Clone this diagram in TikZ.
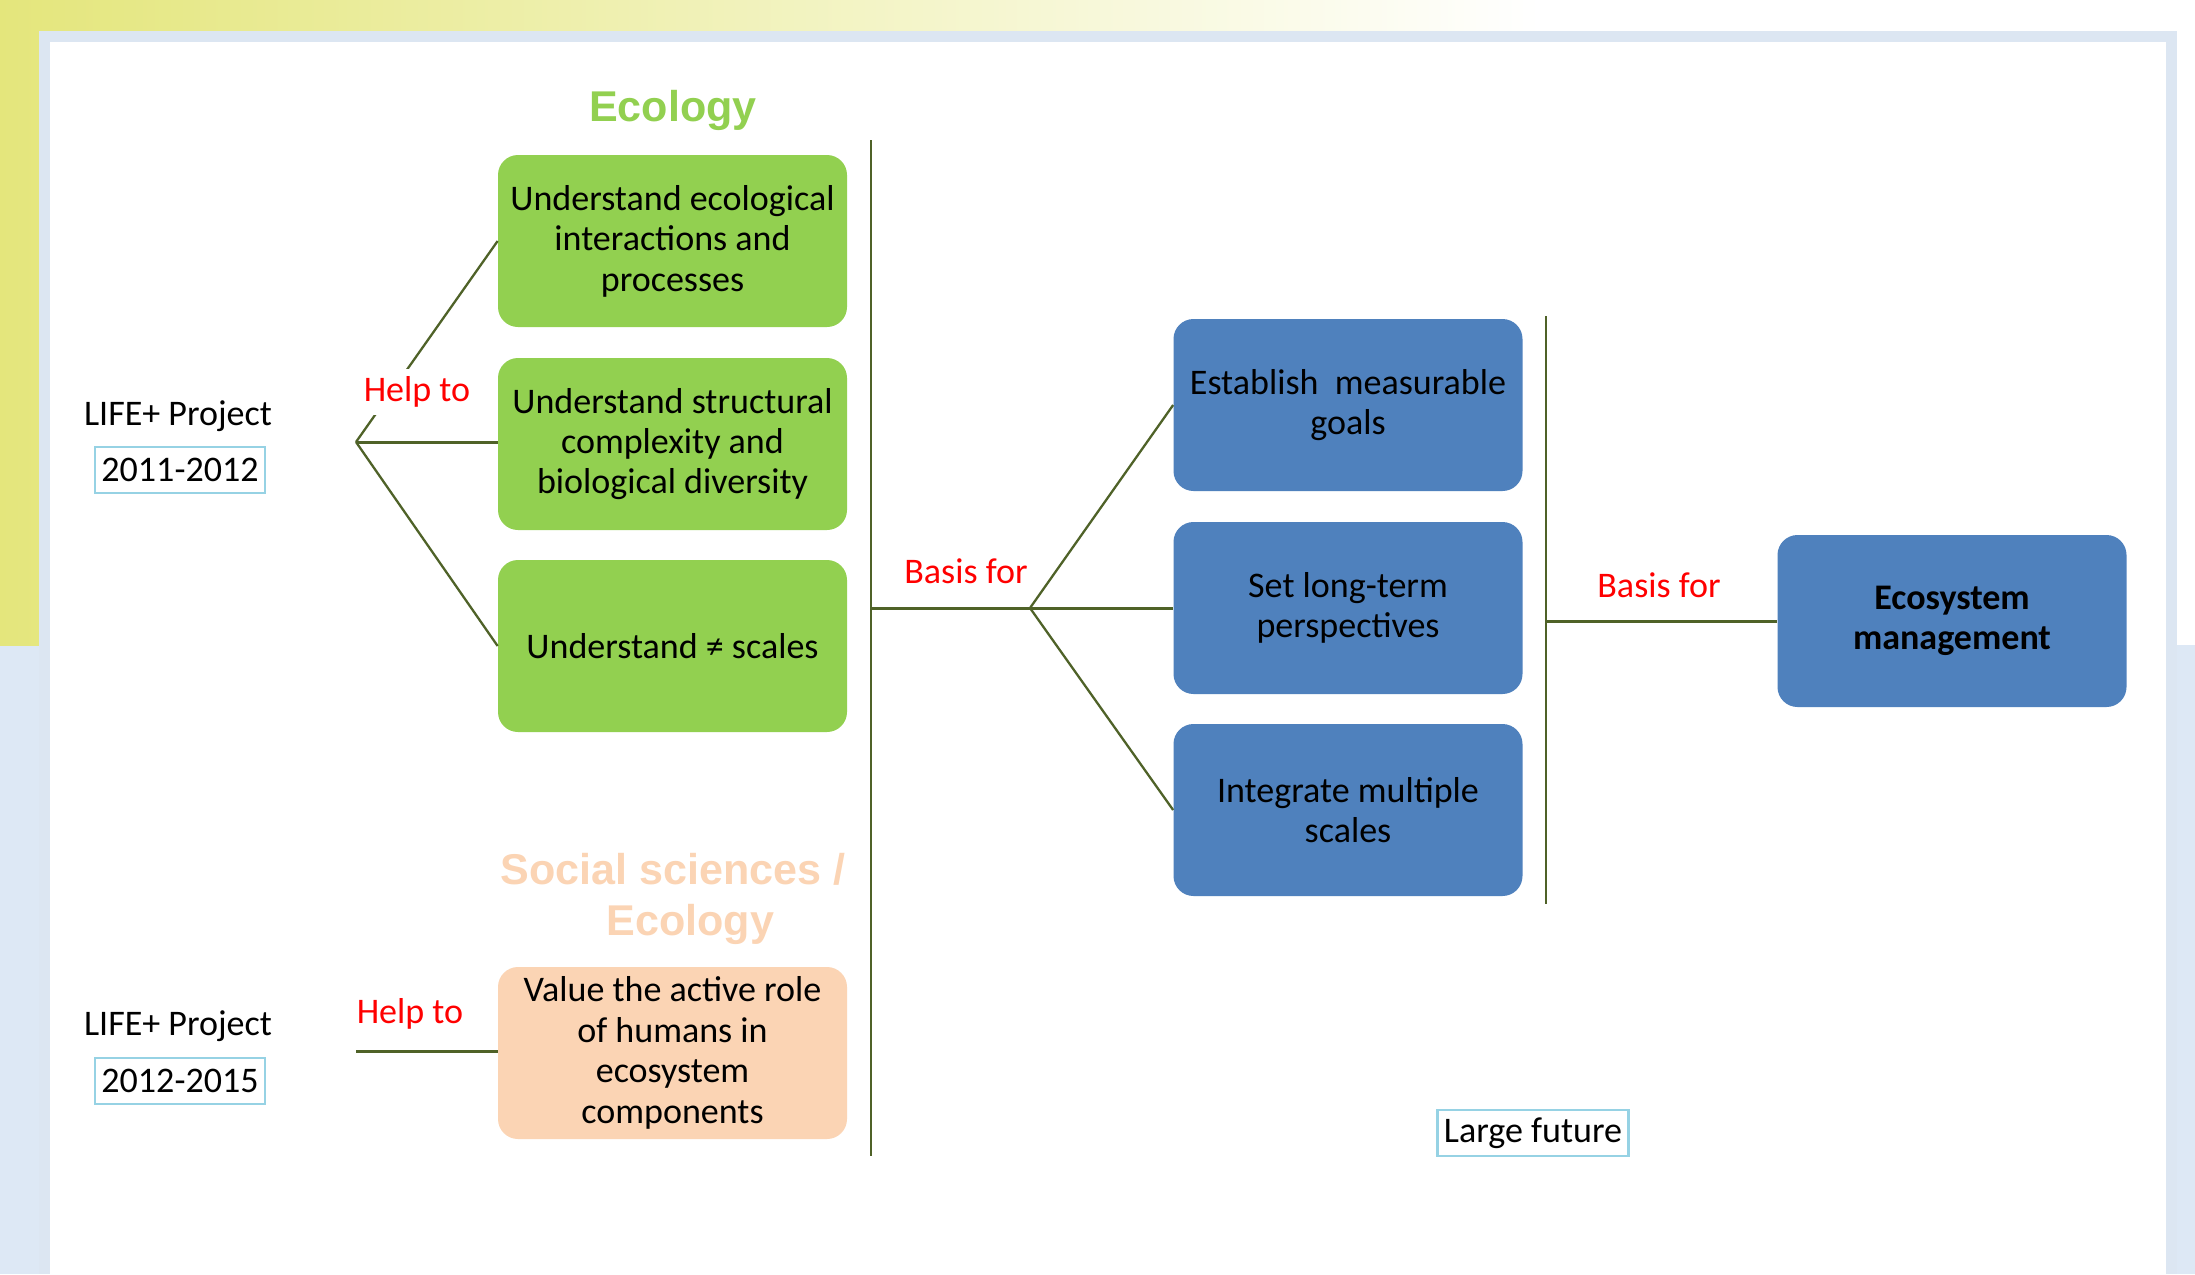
\documentclass[tikz,border=0pt]{standalone}
\usepackage{fontspec}
\setmainfont{Carlito}
\newfontfamily\headfont{Liberation Sans}
\usepackage{tikz}
\usetikzlibrary{calc}

\definecolor{ecogreen}{RGB}{146,208,80}
\definecolor{mgmtblue}{RGB}{79,129,189}
\definecolor{socpeach}{RGB}{251,212,180}
\definecolor{branch}{RGB}{79,98,40}
\definecolor{framegray}{RGB}{220,230,242}
\definecolor{bgyellow}{RGB}{228,230,124}
\definecolor{bgblue}{RGB}{221,232,245}
\definecolor{tagcyan}{RGB}{150,210,228}

\begin{document}
\begin{tikzpicture}[x=0.2mm, y=-0.2mm,
		every node/.style={font=\fontsize{20.5}{23}\selectfont, align=center},
		goalbox/.style={rounded corners=4mm, minimum width=69.8mm, minimum height=34.4mm, inner sep=1mm},
		yeartag/.style={draw=tagcyan, line width=1.5pt, inner sep=1.3mm, minimum height=9.2mm},
		linkword/.style={text=red},
		heading/.style={font=\headfont\bfseries\fontsize{24.5}{29}\selectfont},
		branchline/.style={draw=branch, line width=1.3pt},
		stemline/.style={draw=branch, line width=1.7pt}]
			\useasboundingbox (0,0) rectangle (2195,1274);
			\fill[bgblue] (0,0) rectangle (2195,1274);
			\shade[left color=bgyellow, right color=white] (0,0) rectangle (1540,645);
			\fill[white] (1540,0) rectangle (2195,645);
			\fill[framegray] (39,31) rectangle (2177,1274);
			\fill[white] (50,42) rectangle (2166,1274);

			\node[heading, text=ecogreen] (ecotitle) at (673,110) {Ecology};
			\node[goalbox, fill=ecogreen] (interact) at (672.5,241) {Understand ecological\\interactions and\\processes};
			\node[goalbox, fill=ecogreen] (struct) at (672.5,444) {Understand structural\\complexity and\\biological diversity};
			\node[goalbox, fill=ecogreen] (scales) at (672.5,646) {Understand ≠ scales};
			\node[heading, text=socpeach] (soctitle) at (673,899) {Social sciences /\\\hspace*{0.8em}Ecology};
			\node[goalbox, fill=socpeach] (humans) at (672.5,1053) {Value the active role\\of humans in\\ecosystem\\components};

			\node[goalbox, fill=mgmtblue] (goals) at (1348,405) {Establish\ \ measurable\\goals};
			\node[goalbox, fill=mgmtblue] (longterm) at (1348,608) {Set long-term\\perspectives};
			\node[goalbox, fill=mgmtblue] (multi) at (1348,810) {Integrate multiple\\scales};
			\node[goalbox, fill=mgmtblue, font=\bfseries\fontsize{20.5}{23}\selectfont] (ecomgmt) at (1952,621) {Ecosystem\\management};

			\node (proj1) at (178,416) {LIFE+ Project};
			\node[yeartag] (years1) at (180,470) {2011-2012};
			\node (proj2) at (178,1026) {LIFE+ Project};
			\node[yeartag] (years2) at (180,1081) {2012-2015};
			\node[yeartag] (future) at (1533,1133) {Large future};

			\coordinate (helpA) at (356,442);
			\coordinate (helpB) at (356,1051);
			\coordinate (bar1top) at (871,140);
			\coordinate (bar1bot) at (871,1156);
			\coordinate (basisA) at (1030,608);
			\coordinate (bar2top) at (1546,316);
			\coordinate (bar2bot) at (1546,904);

			\draw[branchline] (helpA) -- (interact.west);
			\draw[stemline] (helpA) -- (struct.west |- helpA);
			\draw[branchline] (helpA) -- (scales.west);
			\draw[stemline] (helpB) -- (humans.west |- helpB);
			\draw[branchline] (bar1top) -- (bar1bot);
			\draw[stemline] (bar1top |- basisA) -- (longterm.west |- basisA);
			\draw[branchline] (basisA) -- (goals.west);
			\draw[branchline] (basisA) -- (multi.west);
			\draw[branchline] (bar2top) -- (bar2bot);
			\draw[stemline] (bar2top |- ecomgmt) -- (ecomgmt.west);

			\node[linkword, fill=white, inner sep=1.5mm] (help1) at (417,392) {Help to};
			\node[linkword] (help2) at (410,1014) {Help to};
			\node[linkword] (basis1) at (966,571) {Basis for};
			\node[linkword] (basis2) at (1659,585) {Basis for};
		\end{tikzpicture}
\end{document}
